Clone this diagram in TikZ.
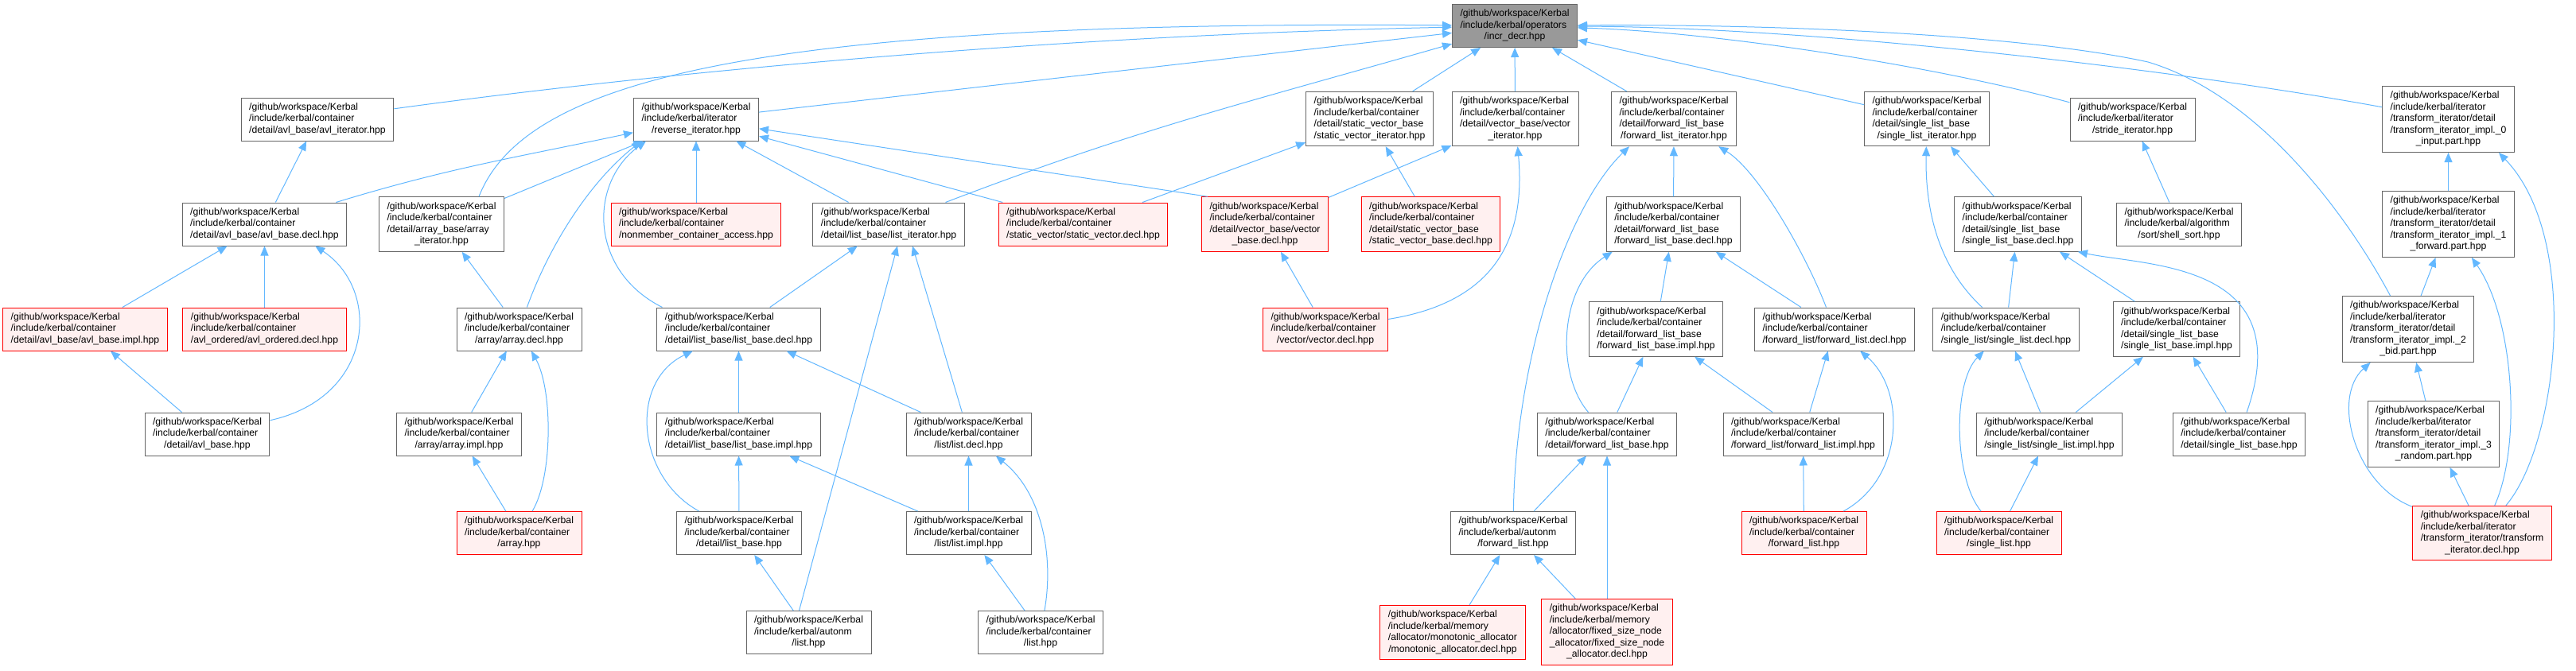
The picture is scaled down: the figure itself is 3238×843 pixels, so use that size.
\documentclass[tikz,border=0pt]{standalone}
\usepackage{fontspec}
\setmainfont{Liberation Sans}
\usetikzlibrary{arrows.meta}
\definecolor{depblue}{RGB}{99,184,255}
\definecolor{fileborder}{RGB}{102,102,102}
\definecolor{rootgrey}{RGB}{153,153,153}
\definecolor{redfill}{RGB}{255,240,240}
\newcommand{\gk}{/github/workspace/Kerbal}
\newcommand{\fname}[2]{\begin{tabular}{@{}l@{}}#1\\\multicolumn{1}{@{}c@{}}{#2}\end{tabular}}

\begin{document}
\begin{tikzpicture}[
    x=1pt, y=1pt,
    file/.style={draw=fileborder, fill=white, line width=1pt, inner xsep=10pt, inner ysep=5.25pt, font=\fontsize{12.2pt}{14.5pt}\selectfont},
    redfile/.style={file, draw=red, fill=redfill},
    rootfile/.style={file, fill=rootgrey},
    dep/.style={-{Triangle[length=12pt, width=10pt]}, depblue, line width=1pt}
]
\fill[white] (0,0) rectangle (3238,-843);
\useasboundingbox (0,0) rectangle (3238,-843);

% row 0
\node[rootfile] (incr) at (1904,-32.5) {\fname{\gk\\/include/kerbal/operators}{/incr\_decr.hpp}};

% row 1
\node[file] (avl_it) at (399,-150) {\fname{\gk\\/include/kerbal/container}{/detail/avl\_base/avl\_iterator.hpp}};
\node[file] (rev_it) at (875,-150) {\fname{\gk\\/include/kerbal/iterator}{/reverse\_iterator.hpp}};
\node[file] (svec_it) at (1721.5,-149.5) {\fname{\gk\\/include/kerbal/container\\/detail/static\_vector\_base}{/static\_vector\_iterator.hpp}};
\node[file] (vec_it) at (1904.5,-149.5) {\fname{\gk\\/include/kerbal/container\\/detail/vector\_base/vector}{\_iterator.hpp}};
\node[file] (fl_it) at (2104,-149.5) {\fname{\gk\\/include/kerbal/container\\/detail/forward\_list\_base}{/forward\_list\_iterator.hpp}};
\node[file] (sl_it) at (2422,-149.5) {\fname{\gk\\/include/kerbal/container\\/detail/single\_list\_base}{/single\_list\_iterator.hpp}};
\node[file] (stride_it) at (2680.5,-150) {\fname{\gk\\/include/kerbal/iterator}{/stride\_iterator.hpp}};
\node[file] (impl0) at (3077.5,-150) {\fname{\gk\\/include/kerbal/iterator\\/transform\_iterator/detail\\/transform\_iterator\_impl.\_0}{\_input.part.hpp}};

% row 2
\node[file] (avl_decl) at (332.5,-282) {\fname{\gk\\/include/kerbal/container}{/detail/avl\_base/avl\_base.decl.hpp}};
\node[file] (arr_it) at (555,-282) {\fname{\gk\\/include/kerbal/container\\/detail/array\_base/array}{\_iterator.hpp}};
\node[redfile] (nonmember) at (875,-282) {\fname{\gk\\/include/kerbal/container}{/nonmember\_container\_access.hpp}};
\node[file] (lb_it) at (1117,-282) {\fname{\gk\\/include/kerbal/container}{/detail/list\_base/list\_iterator.hpp}};
\node[redfile] (svec_decl) at (1361.5,-282) {\fname{\gk\\/include/kerbal/container}{/static\_vector/static\_vector.decl.hpp}};
\node[redfile] (vb_decl) at (1590,-282) {\fname{\gk\\/include/kerbal/container\\/detail/vector\_base/vector}{\_base.decl.hpp}};
\node[redfile] (svb_decl) at (1798.5,-282) {\fname{\gk\\/include/kerbal/container\\/detail/static\_vector\_base}{/static\_vector\_base.decl.hpp}};
\node[file] (flb_decl) at (2103.5,-282) {\fname{\gk\\/include/kerbal/container\\/detail/forward\_list\_base}{/forward\_list\_base.decl.hpp}};
\node[file] (slb_decl) at (2536.5,-282) {\fname{\gk\\/include/kerbal/container\\/detail/single\_list\_base}{/single\_list\_base.decl.hpp}};
\node[file] (shell) at (2739,-282) {\fname{\gk\\/include/kerbal/algorithm}{/sort/shell\_sort.hpp}};
\node[file] (impl1) at (3077.5,-282) {\fname{\gk\\/include/kerbal/iterator\\/transform\_iterator/detail\\/transform\_iterator\_impl.\_1}{\_forward.part.hpp}};

% row 3
\node[redfile] (avl_impl) at (107,-414) {\fname{\gk\\/include/kerbal/container}{/detail/avl\_base/avl\_base.impl.hpp}};
\node[redfile] (avl_ord) at (332.5,-414) {\fname{\gk\\/include/kerbal/container}{/avl\_ordered/avl\_ordered.decl.hpp}};
\node[file] (arr_decl) at (652.5,-414) {\fname{\gk\\/include/kerbal/container}{/array/array.decl.hpp}};
\node[file] (lb_decl) at (928.5,-414) {\fname{\gk\\/include/kerbal/container}{/detail/list\_base/list\_base.decl.hpp}};
\node[redfile] (vec_decl) at (1666,-414) {\fname{\gk\\/include/kerbal/container}{/vector/vector.decl.hpp}};
\node[file] (flb_impl) at (2081.5,-414) {\fname{\gk\\/include/kerbal/container\\/detail/forward\_list\_base}{/forward\_list\_base.impl.hpp}};
\node[file] (fl_decl) at (2306,-414) {\fname{\gk\\/include/kerbal/container}{/forward\_list/forward\_list.decl.hpp}};
\node[file] (sl_decl) at (2521.5,-414) {\fname{\gk\\/include/kerbal/container}{/single\_list/single\_list.decl.hpp}};
\node[file] (slb_impl) at (2736,-414) {\fname{\gk\\/include/kerbal/container\\/detail/single\_list\_base}{/single\_list\_base.impl.hpp}};
\node[file] (impl2) at (3027,-414) {\fname{\gk\\/include/kerbal/iterator\\/transform\_iterator/detail\\/transform\_iterator\_impl.\_2}{\_bid.part.hpp}};

% row 4
\node[file] (avl_base) at (260.5,-546) {\fname{\gk\\/include/kerbal/container}{/detail/avl\_base.hpp}};
\node[file] (arr_impl) at (577,-546) {\fname{\gk\\/include/kerbal/container}{/array/array.impl.hpp}};
\node[file] (lb_impl) at (928.5,-546) {\fname{\gk\\/include/kerbal/container}{/detail/list\_base/list\_base.impl.hpp}};
\node[file] (list_decl) at (1217.5,-546) {\fname{\gk\\/include/kerbal/container}{/list/list.decl.hpp}};
\node[file] (fl_base) at (2020,-546) {\fname{\gk\\/include/kerbal/container}{/detail/forward\_list\_base.hpp}};
\node[file] (fl_impl) at (2266.5,-546) {\fname{\gk\\/include/kerbal/container}{/forward\_list/forward\_list.impl.hpp}};
\node[file] (sl_impl) at (2576,-546) {\fname{\gk\\/include/kerbal/container}{/single\_list/single\_list.impl.hpp}};
\node[file] (sl_base) at (2814.5,-546) {\fname{\gk\\/include/kerbal/container}{/detail/single\_list\_base.hpp}};
\node[file] (impl3) at (3059,-546) {\fname{\gk\\/include/kerbal/iterator\\/transform\_iterator/detail\\/transform\_iterator\_impl.\_3}{\_random.part.hpp}};

% row 5
\node[redfile] (arr) at (652.5,-670.5) {\fname{\gk\\/include/kerbal/container}{/array.hpp}};
\node[file] (lb_base) at (929,-670.5) {\fname{\gk\\/include/kerbal/container}{/detail/list\_base.hpp}};
\node[file] (list_impl) at (1217.5,-670.5) {\fname{\gk\\/include/kerbal/container}{/list/list.impl.hpp}};
\node[file] (autonm_fl) at (1902,-670.5) {\fname{\gk\\/include/kerbal/autonm}{/forward\_list.hpp}};
\node[redfile] (fl) at (2267.5,-670.5) {\fname{\gk\\/include/kerbal/container}{/forward\_list.hpp}};
\node[redfile] (sl) at (2512.5,-670.5) {\fname{\gk\\/include/kerbal/container}{/single\_list.hpp}};
\node[redfile] (td_decl) at (3120,-670.5) {\fname{\gk\\/include/kerbal/iterator\\/transform\_iterator/transform}{\_iterator.decl.hpp}};

% row 6
\node[file] (autonm_list) at (1016.5,-795.5) {\fname{\gk\\/include/kerbal/autonm}{/list.hpp}};
\node[file] (list) at (1308,-795.5) {\fname{\gk\\/include/kerbal/container}{/list.hpp}};
\node[redfile] (mono) at (1826,-795.5) {\fname{\gk\\/include/kerbal/memory\\/allocator/monotonic\_allocator}{/monotonic\_allocator.decl.hpp}};
\node[redfile] (fixed) at (2020,-795) {\fname{\gk\\/include/kerbal/memory\\/allocator/fixed\_size\_node\\\_allocator/fixed\_size\_node}{\_allocator.decl.hpp}};

% includes of incr_decr.hpp
\draw[dep] (avl_it) .. controls (800,-95) and (1300,-45) .. (incr);
\draw[dep] (rev_it) -- (incr);
\draw[dep] ([xshift=47pt]arr_it.north) .. controls (660,-100) and (950,-25) .. (incr);
\draw[dep] (lb_it) to[out=21, in=196] (incr);
\draw[dep] (svec_it) -- (incr);
\draw[dep] (vec_it) -- (incr);
\draw[dep] (fl_it) -- (incr);
\draw[dep] (sl_it) -- (incr);
\draw[dep] (stride_it) .. controls (2420,-80) and (2150,-40) .. (incr);
\draw[dep] (impl0) .. controls (2750,-90) and (2300,-35) .. (incr);
\draw[dep] (impl2) .. controls (2950,-270) and (2840,-120) .. (2700,-78) .. controls (2550,-45) and (2250,-30) .. (incr);

% reverse_iterator
\draw[dep] (avl_decl) to[out=17, in=192] (rev_it);
\draw[dep] (arr_it) -- (rev_it);
\draw[dep] (arr_decl) .. controls (690,-310) and (740,-230) .. ([xshift=10pt]rev_it.south west);
\draw[dep] ([xshift=7pt]lb_decl.north west) .. controls (740,-340) and (740,-230) .. ([xshift=16pt]rev_it.south west);
\draw[dep] (nonmember) -- (rev_it);
\draw[dep] (lb_it) -- (rev_it);
\draw[dep] (svec_decl) -- (rev_it);
\draw[dep] ([xshift=8pt]vb_decl.north west) -- (rev_it);

% avl
\draw[dep] (avl_decl) -- (avl_it);
\draw[dep] (avl_impl) -- (avl_decl);
\draw[dep] (avl_ord) -- (avl_decl);
\draw[dep] (avl_base) .. controls (470,-500) and (480,-365) .. ([xshift=-40pt]avl_decl.south east);
\draw[dep] (avl_base) -- (avl_impl);

% array
\draw[dep] (arr_decl) -- (arr_it);
\draw[dep] (arr_impl) -- (arr_decl);
\draw[dep] (arr) .. controls (695,-600) and (695,-490) .. (arr_decl);
\draw[dep] (arr) -- (arr_impl);

% list
\draw[dep] (lb_decl) -- (lb_it);
\draw[dep] (list_decl) -- ([xshift=30pt]lb_it.south);
\draw[dep] ([xshift=-12pt]autonm_list.north) -- ([xshift=11pt]lb_it.south);
\draw[dep] (lb_impl) -- (lb_decl);
\draw[dep] (lb_base) .. controls (800,-600) and (790,-480) .. (lb_decl);
\draw[dep] (list_decl) -- (lb_decl);
\draw[dep] (lb_base) -- (lb_impl);
\draw[dep] (list_impl) -- (lb_impl);
\draw[dep] (autonm_list) -- (lb_base);
\draw[dep] (list_impl) -- (list_decl);
\draw[dep] (list) .. controls (1325,-700) and (1310,-620) .. (list_decl);
\draw[dep] (list) -- (list_impl);

% vector
\draw[dep] (svec_decl) -- (svec_it);
\draw[dep] (svb_decl) -- (svec_it);
\draw[dep] (vb_decl) -- (vec_it);
\draw[dep] (vec_decl) .. controls (1880,-380) and (1918,-300) .. (vec_it);
\draw[dep] (vec_decl) -- (vb_decl);

% forward_list
\draw[dep] (flb_decl) -- (fl_it);
\draw[dep] (autonm_fl) .. controls (1905,-450) and (1970,-260) .. ([xshift=23pt]fl_it.south west);
\draw[dep] (fl_decl) .. controls (2270,-320) and (2210,-215) .. (fl_it);
\draw[dep] (flb_impl) -- (flb_decl);
\draw[dep] (fl_base) .. controls (1955,-470) and (1960,-360) .. ([xshift=8pt]flb_decl.south west);
\draw[dep] (fl_decl) -- (flb_decl);
\draw[dep] (fl_base) -- (flb_impl);
\draw[dep] (fl_impl) -- (flb_impl);
\draw[dep] (autonm_fl) -- (fl_base);
\draw[dep] (fixed) -- (fl_base);
\draw[dep] (mono) -- (autonm_fl);
\draw[dep] (fixed) -- (autonm_fl);
\draw[dep] (fl_impl) -- (fl_decl);
\draw[dep] (fl) .. controls (2395,-600) and (2395,-490) .. (fl_decl);
\draw[dep] (fl) -- (fl_impl);

% single_list
\draw[dep] (sl_decl) .. controls (2430,-330) and (2420,-250) .. (sl_it);
\draw[dep] (slb_decl) -- (sl_it);
\draw[dep] (sl_decl) -- (slb_decl);
\draw[dep] (slb_impl) -- (slb_decl);
\draw[dep] (sl_base) .. controls (2890,-330) and (2700,-335) .. ([xshift=-5pt]slb_decl.south east);
\draw[dep] (sl_impl) -- (sl_decl);
\draw[dep] (sl) .. controls (2455,-600) and (2455,-480) .. (sl_decl);
\draw[dep] (sl_impl) -- (slb_impl);
\draw[dep] (sl_base) -- (slb_impl);
\draw[dep] (sl) -- (sl_impl);
\draw[dep] (shell) -- (stride_it);

% transform_iterator
\draw[dep] (impl1) -- (impl0);
\draw[dep] (td_decl) .. controls (3215,-560) and (3245,-300) .. ([xshift=-20pt]impl0.south east);
\draw[dep] (impl2) -- (impl1);
\draw[dep] (td_decl) .. controls (3170,-560) and (3160,-400) .. (impl1);
\draw[dep] (impl3) -- (impl2);
\draw[dep] (td_decl) .. controls (2960,-610) and (2930,-500) .. (impl2);
\draw[dep] (td_decl) -- (impl3);
\end{tikzpicture}
\end{document}
